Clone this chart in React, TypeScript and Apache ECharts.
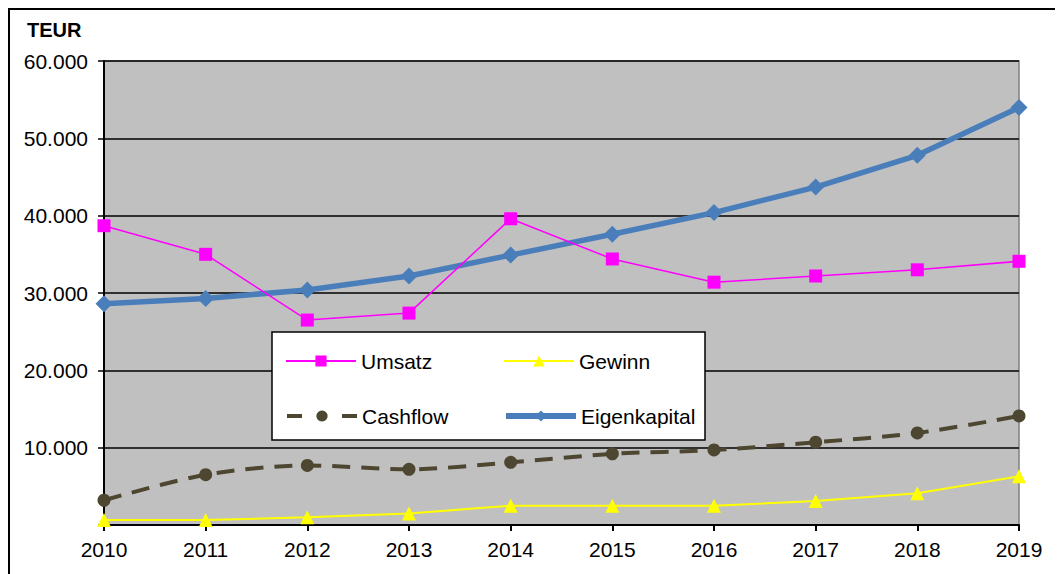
import React, { useEffect, useRef } from "react";
import * as echarts from "echarts";

const years = ["2010", "2011", "2012", "2013", "2014", "2015", "2016", "2017", "2018", "2019"];
const umsatz = [38700, 35000, 26500, 27400, 39600, 34400, 31400, 32200, 33000, 34100];
const gewinn = [650, 650, 1000, 1500, 2500, 2500, 2500, 3100, 4100, 6300];
const cashflow = [3200, 6500, 7700, 7200, 8100, 9200, 9700, 10700, 11900, 14100];
const eigenkapital = [28600, 29300, 30400, 32200, 34900, 37600, 40400, 43700, 47800, 54000];
const yTicks = [0, 10000, 20000, 30000, 40000, 50000, 60000];

const FONT = "Liberation Sans, Arial, sans-serif";

function fmt(v: number): string {
  if (v === 0) return "";
  return String(v).replace(/\B(?=(\d{3})+(?!\d))/g, ".");
}

export default function App() {
  const ref = useRef<HTMLDivElement>(null);
  useEffect(() => {
    if (!ref.current) return;
    document.body.style.overflow = "hidden";
    document.documentElement.style.overflow = "hidden";
    const chart = echarts.init(ref.current, undefined, { renderer: "svg" });
    const legendBase = {
      orient: "horizontal" as const,
      padding: 0,
      itemWidth: 70,
      itemHeight: 14,
      z: 20,
      selectedMode: false,
      textStyle: { fontFamily: FONT, fontSize: 21, color: "#000", lineHeight: 24 },
    };
    chart.setOption({
      animation: false,
      backgroundColor: "#fff",
      title: {
        text: "TEUR",
        left: 19,
        top: 12,
        padding: 0,
        textStyle: { fontFamily: FONT, fontSize: 20, fontWeight: "bold", color: "#000" },
      },
      grid: {
        left: 96,
        top: 53,
        right: 44,
        bottom: 49,
        show: true,
        backgroundColor: "#C0C0C0",
        borderColor: "#808080",
        borderWidth: 1.5,
      },
      xAxis: {
        type: "category",
        data: years,
        boundaryGap: false,
        axisLine: { lineStyle: { color: "#000", width: 2 } },
        axisTick: { show: true, alignWithLabel: true, length: 6, lineStyle: { color: "#000", width: 2 } },
        axisLabel: { fontFamily: FONT, fontSize: 21, color: "#000", margin: 14 },
        splitLine: { show: false },
      },
      yAxis: {
        type: "value",
        min: yTicks[0],
        max: yTicks[yTicks.length - 1],
        interval: 10000,
        axisLine: { show: true, lineStyle: { color: "#000", width: 2 } },
        axisTick: { show: true, length: 6, lineStyle: { color: "#000", width: 1.5 } },
        axisLabel: { fontFamily: FONT, fontSize: 21, color: "#000", margin: 16, formatter: (v: number) => fmt(v) },
        splitLine: { show: true, lineStyle: { color: "#000", width: 1.5 } },
      },
      legend: [
        { ...legendBase, data: ["Umsatz"], left: 277, top: 341, lineStyle: { width: 2 } },
        { ...legendBase, data: ["Gewinn"], left: 495, top: 341, lineStyle: { width: 2 } },
        { ...legendBase, data: ["Cashflow"], left: 277, top: 396, lineStyle: { width: 4, type: [15, 40] } },
        { ...legendBase, data: ["Eigenkapital"], left: 495, top: 396, lineStyle: { width: 6 } },
      ],
      graphic: [
        {
          type: "line",
          shape: { x1: 0, y1: 1, x2: 1055, y2: 1 },
          style: { stroke: "#000", lineWidth: 2 },
          z: 30,
          silent: true,
        },
        {
          type: "line",
          shape: { x1: 1, y1: 0, x2: 1, y2: 566 },
          style: { stroke: "#000", lineWidth: 2 },
          z: 30,
          silent: true,
        },
        {
          type: "rect",
          shape: { x: 264, y: 324, width: 433, height: 108 },
          style: { fill: "#fff", stroke: "#000", lineWidth: 1.5 },
          z: 15,
          silent: true,
        },
      ],
      series: [
        {
          name: "Umsatz",
          type: "line",
          data: umsatz,
          symbol: "rect",
          symbolSize: 13,
          itemStyle: { color: "#FF00FF" },
          lineStyle: { color: "#FF00FF", width: 1.5 },
          z: 3,
        },
        {
          name: "Gewinn",
          type: "line",
          data: gewinn,
          symbol: "triangle",
          symbolSize: 14,
          itemStyle: { color: "#FFFF00" },
          lineStyle: { color: "#FFFF00", width: 2 },
          z: 3,
        },
        {
          name: "Cashflow",
          type: "line",
          data: cashflow,
          smooth: 0.3,
          symbol: "circle",
          symbolSize: 13,
          itemStyle: { color: "#4D4630" },
          lineStyle: { color: "#4D4630", width: 4, type: [18, 11] },
          z: 3,
        },
        {
          name: "Eigenkapital",
          type: "line",
          data: eigenkapital,
          symbol: "diamond",
          symbolSize: 17,
          itemStyle: { color: "#4A7EBB" },
          lineStyle: { color: "#4A7EBB", width: 5.5 },
          z: 2,
        },
      ],
    });
    return () => chart.dispose();
  }, []);
  return (
    <div style={{ width: 1055, height: 566, overflow: "hidden" }}>
      <div ref={ref} style={{ width: 1055, height: 566 }} />
    </div>
  );
}
